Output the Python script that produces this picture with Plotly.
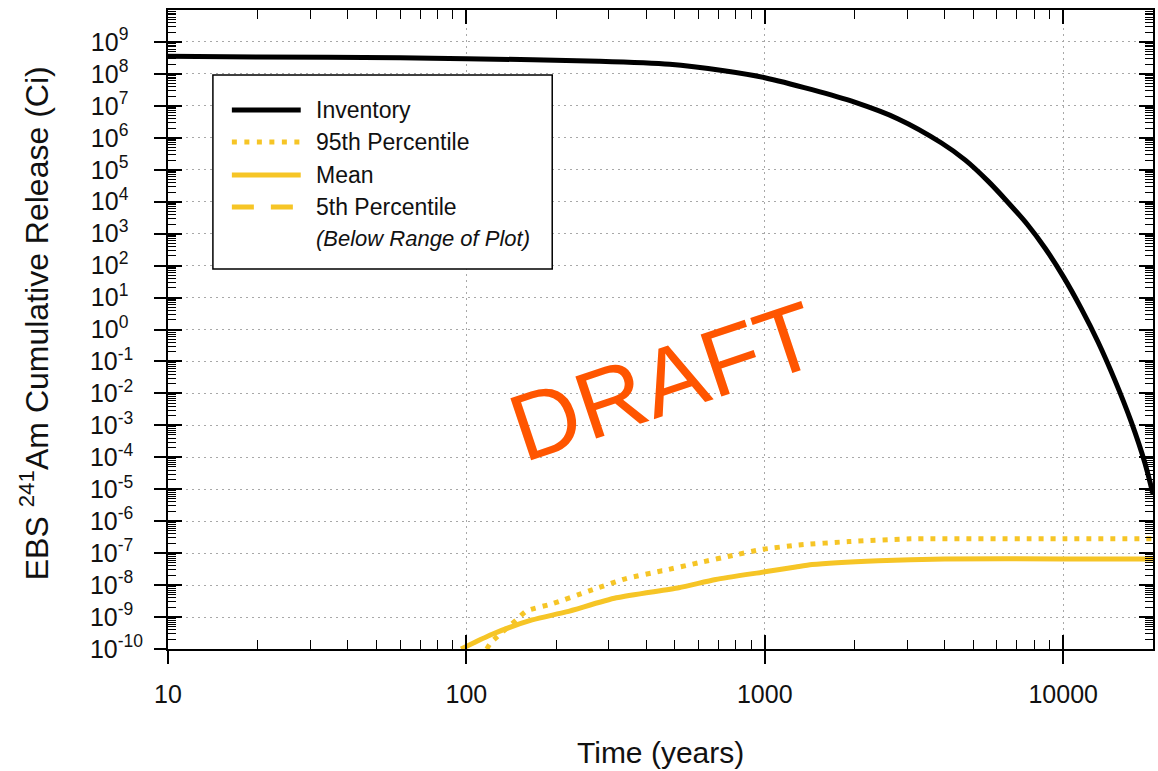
import plotly.graph_objects as go

# ---------------- data ----------------
time_inventory = [10, 20, 60, 100, 278, 480, 730, 1000, 1440, 2000, 2800, 3900, 4700,
                  5600, 6500, 7600, 8700, 10000, 11500, 13100, 14900, 16900, 18800, 20000]
inventory = [3.6e8, 3.4e8, 3.2e8, 3.0e8, 2.5e8, 2.0e8, 1.25e8, 7.6e7, 3.2e7, 1.3e7, 3.9e6,
             7.0e5, 2.0e5, 4.4e4, 1.0e4, 1.9e3, 3.5e2, 46, 4.5, 0.40, 2.6e-2, 1.3e-3,
             6.5e-5, 7.0e-6]

time_mean = [96, 122, 166, 216, 318, 515, 685, 1000, 1270, 1440, 2400, 4000, 10000, 20000]
mean = [1.0e-10, 2.9e-10, 8.1e-10, 1.45e-9, 4.0e-9, 8.3e-9, 1.5e-8, 2.6e-8, 3.7e-8,
        4.4e-8, 5.8e-8, 6.6e-8, 6.6e-8, 6.6e-8]

time_p95 = [117, 121, 147, 159, 194, 258, 343, 453, 601, 800, 975, 1300, 1910, 3080,
            10000, 20000]
p95 = [1.0e-10, 1.6e-10, 8.1e-10, 1.55e-9, 2.6e-9, 6.6e-9, 1.6e-8, 2.8e-8, 5.0e-8,
       8.9e-8, 1.3e-7, 1.8e-7, 2.3e-7, 2.8e-7, 2.8e-7, 2.8e-7]

x_tick_vals = [10, 100, 1000, 10000]
x_tick_labels = ["10", "100", "1000", "10000"]
y_exponents = [-10, -9, -8, -7, -6, -5, -4, -3, -2, -1, 0, 1, 2, 3, 4, 5, 6, 7, 8, 9]

legend_names = ["Inventory", "95th Percentile", "Mean", "5th Percentile"]
legend_note = "(Below Range of Plot)"

# ---------------- styling ----------------
FONT = "Liberation Sans, Arial, sans-serif"
YELLOW = "#F6C526"
BLACK = "#000000"
W, H = 1158, 771
ML, MR, MT, MB = 168, 3, 10, 122
PW, PH = W - ML - MR, H - MT - MB


def px_x(px):
    return (px - ML) / PW


def px_y(py):
    return 1 - (py - MT) / PH


y_tick_vals = [10.0 ** e for e in y_exponents]
y_tick_text = []
for e in y_exponents:
    s = str(e)
    pad = {1: 3, 2: 2, 3: 0}[len(s)]
    y_tick_text.append("10<sup>" + s + "\u00a0" * pad + "</sup>")

x_minor = [k * 10 ** n for n in range(1, 5) for k in range(2, 10)]
y_minor = [k * 10.0 ** n for n in range(-10, 10) for k in range(2, 10)]

fig = go.Figure()
fig.add_trace(go.Scatter(x=time_inventory, y=inventory, mode="lines",
                         line=dict(color=BLACK, width=5, shape="spline", smoothing=0.8),
                         name=legend_names[0], showlegend=False))
fig.add_trace(go.Scatter(x=time_p95, y=p95, mode="lines",
                         line=dict(color=YELLOW, width=5, dash="5px,7px",
                                   shape="spline", smoothing=0.6),
                         name=legend_names[1], showlegend=False))
fig.add_trace(go.Scatter(x=time_mean, y=mean, mode="lines",
                         line=dict(color=YELLOW, width=5, shape="spline", smoothing=0.6),
                         name=legend_names[2], showlegend=False))
# empty trace to host the overlay axes (outer half of the major ticks)
fig.add_trace(go.Scatter(x=[], y=[], xaxis="x2", yaxis="y2", showlegend=False,
                         hoverinfo="skip"))

xr = [1, 4.30103]
yr = [-10, 10]
axis_common = dict(type="log", showline=True, linecolor=BLACK, linewidth=2,
                   mirror="ticks", ticks="inside", ticklen=14, tickwidth=1.5,
                   tickcolor=BLACK, showgrid=True, gridcolor="#a8a8a8",
                   griddash="2px,4px", gridwidth=1, zeroline=False,
                   tickfont=dict(family=FONT, size=25, color="#111111"))

fig.update_layout(
    width=W, height=H,
    margin=dict(l=ML, r=MR, t=MT, b=MB, pad=0),
    paper_bgcolor="white", plot_bgcolor="white",
    showlegend=False,
    font=dict(family=FONT, color="#111111"),
    xaxis=dict(axis_common, range=xr, tickmode="array", tickvals=x_tick_vals,
               ticktext=x_tick_labels, ticklabelstandoff=22,
               minor=dict(tickmode="array", tickvals=x_minor, ticks="inside",
                          ticklen=9, tickcolor=BLACK, tickwidth=1.2, showgrid=False)),
    yaxis=dict(axis_common, range=yr, tickmode="array", tickvals=y_tick_vals,
               ticktext=y_tick_text, ticklabelstandoff=18,
               minor=dict(tickmode="array", tickvals=y_minor, ticks="inside",
                          ticklen=8, tickcolor=BLACK, tickwidth=1, showgrid=False)),
    xaxis2=dict(type="log", range=xr, overlaying="x", anchor="y2", side="bottom",
                tickmode="array", tickvals=x_tick_vals, ticks="outside", ticklen=14,
                tickwidth=1.5, tickcolor=BLACK, showticklabels=False, showgrid=False,
                showline=False, zeroline=False),
    yaxis2=dict(type="log", range=yr, overlaying="y", anchor="x2", side="left",
                tickmode="array", tickvals=y_tick_vals, ticks="outside", ticklen=13,
                tickwidth=1.5, tickcolor=BLACK, showticklabels=False, showgrid=False,
                showline=False, zeroline=False),
)

# axis titles
fig.add_annotation(text="Time (years)", xref="paper", yref="paper",
                   x=px_x(661), y=px_y(752), xanchor="center", yanchor="middle",
                   showarrow=False, font=dict(family=FONT, size=30, color="#111111"))
fig.add_annotation(text="EBS <sup>241</sup>Am Cumulative Release (Ci)", xref="paper",
                   yref="paper", x=px_x(34), y=px_y(323), xanchor="center",
                   yanchor="middle", textangle=-90, showarrow=False,
                   font=dict(family=FONT, size=32, color="#111111"))

# manual legend
fig.add_shape(type="rect", xref="paper", yref="paper", x0=px_x(213), x1=px_x(553),
              y0=px_y(269), y1=px_y(75), line=dict(color=BLACK, width=1.5),
              fillcolor="white", layer="above")
legend_rows = [110, 142, 175, 207]
legend_styles = [dict(color=BLACK, width=5, dash="solid"),
                 dict(color=YELLOW, width=5, dash="5px,7.5px"),
                 dict(color=YELLOW, width=5, dash="solid"),
                 dict(color=YELLOW, width=5, dash="22px,17px")]
for name, row, style in zip(legend_names, legend_rows, legend_styles):
    fig.add_shape(type="line", xref="paper", yref="paper", x0=px_x(232), x1=px_x(301),
                  y0=px_y(row), y1=px_y(row), line=style, layer="above")
    fig.add_annotation(text=name, xref="paper", yref="paper", x=px_x(314), y=px_y(row),
                       xanchor="left", yanchor="middle", showarrow=False,
                       font=dict(family=FONT, size=23, color="#111111"))
fig.add_annotation(text="<i>" + legend_note + "</i>", xref="paper", yref="paper",
                   x=px_x(314), y=px_y(238), xanchor="left", yanchor="middle",
                   showarrow=False, font=dict(family=FONT, size=22, color="#111111"))

# watermark
fig.add_annotation(text="DRAFT", xref="paper", yref="paper", x=px_x(665), y=px_y(381),
                   xanchor="center", yanchor="middle", textangle=-18.5, showarrow=False,
                   font=dict(family=FONT, size=95, color="#FF5500"))

fig.write_html("out.html")
